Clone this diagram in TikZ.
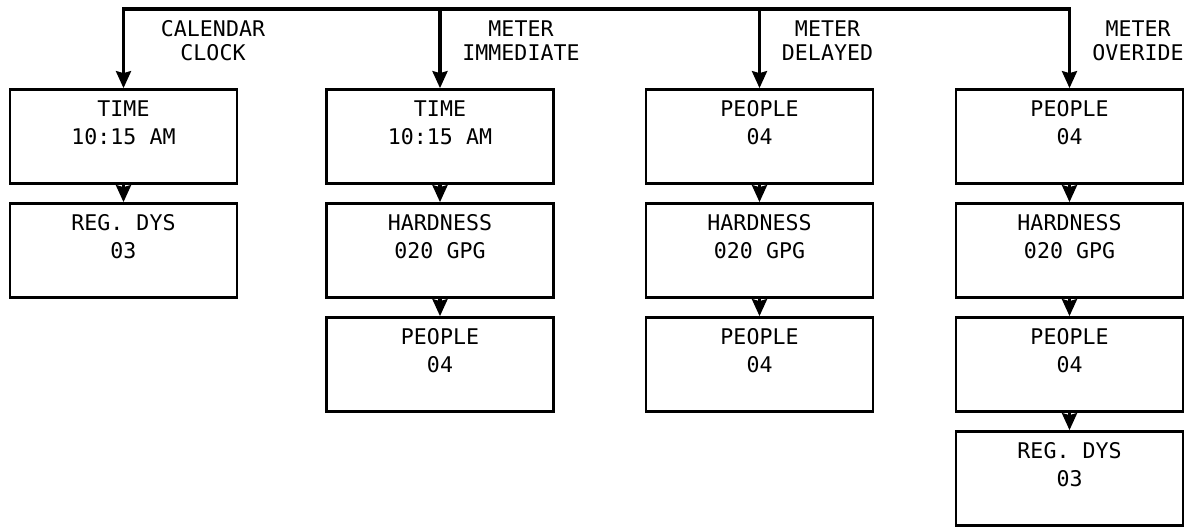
\documentclass[tikz,border=0pt]{standalone}
\usepackage{fontspec}
\setmonofont{DejaVu Sans Mono}
\usetikzlibrary{arrows.meta,positioning,calc}
\begin{document}
\begin{tikzpicture}[x=1pt,y=-1pt,
  font=\ttfamily\fontsize{21.6}{27.8}\selectfont,
  >={Stealth[length=17pt,width=15pt,inset=2pt]},
  scr/.style={draw,line width=2.7pt,minimum width=227pt,minimum height=94pt,align=center,inner sep=0pt},
  lbl/.style={align=center,font=\ttfamily\fontsize{21.6}{24}\selectfont},
  arr/.style={->,line width=3.2pt}]
\useasboundingbox (0,0) rectangle (1189,527);
\coordinate(bus) at(0,9);
\node[scr](cal1) at(123.5,136.5){TIME\\10:15 AM\\~};
\node[scr](cal2) at(123.5,250.5){REG. DYS\\03\\~};
\node[scr](imm1) at(440,136.5){TIME\\10:15 AM\\~};
\node[scr](imm2) at(440,250.5){HARDNESS\\020 GPG\\~};
\node[scr](imm3) at(440,364.5){PEOPLE\\04\\~};
\node[scr](del1) at(759.5,136.5){PEOPLE\\04\\~};
\node[scr](del2) at(759.5,250.5){HARDNESS\\020 GPG\\~};
\node[scr](del3) at(759.5,364.5){PEOPLE\\04\\~};
\node[scr](ovr1) at(1069.5,136.5){PEOPLE\\04\\~};
\node[scr](ovr2) at(1069.5,250.5){HARDNESS\\020 GPG\\~};
\node[scr](ovr3) at(1069.5,364.5){PEOPLE\\04\\~};
\node[scr](ovr4) at(1069.5,478.5){REG. DYS\\03\\~};
\node[lbl](lcal) at(213,40.5){CALENDAR\\CLOCK};
\node[lbl](limm) at(521,40.5){METER\\IMMEDIATE};
\node[lbl](ldel) at(827.5,40.5){METER\\DELAYED};
\node[lbl](lovr) at(1138,40.5){METER\\OVERIDE};
\draw[arr,<->](cal1.north)--(cal1.north|-bus)-|(ovr1.north);
\draw[arr](imm1.north|-bus)--(imm1);
\draw[arr](del1.north|-bus)--(del1);
\draw[arr](cal1)--(cal2);
\draw[arr](imm1)--(imm2);
\draw[arr](imm2)--(imm3);
\draw[arr](del1)--(del2);
\draw[arr](del2)--(del3);
\draw[arr](ovr1)--(ovr2);
\draw[arr](ovr2)--(ovr3);
\draw[arr](ovr3)--(ovr4);
\end{tikzpicture}
\end{document}
